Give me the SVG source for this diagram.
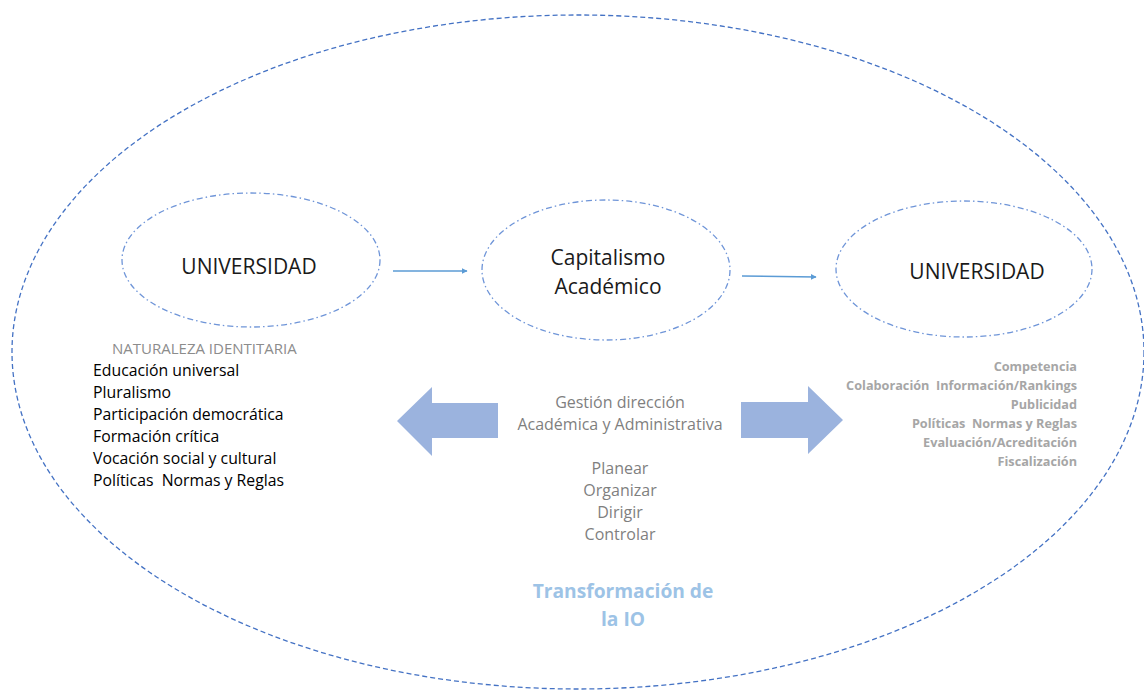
<svg xmlns="http://www.w3.org/2000/svg" width="1144" height="690" viewBox="0 0 1144 690">
<defs>
<style>
.outer{fill:none;stroke:#4472c4;stroke-width:1.3;stroke-dasharray:5 3}
.node{fill:none;stroke:#6f95d8;stroke-width:1.3;stroke-dasharray:6 3 1.5 3}
.title{font-family:"Open Sans","Liberation Sans",Arial,sans-serif;font-size:21px;fill:#1a1a1a;text-anchor:middle}
.mid{font-family:"Open Sans","Liberation Sans",Arial,sans-serif;font-size:16px;fill:#7f7f7f;text-anchor:middle}
.list{font-family:"Open Sans","Liberation Sans",Arial,sans-serif;font-size:15.8px;fill:#000}
.head{font-family:"Open Sans","Liberation Sans",Arial,sans-serif;font-size:15px;fill:#8c8c8c}
.rlist{font-family:"Open Sans","Liberation Sans",Arial,sans-serif;font-size:12.7px;font-weight:bold;fill:#a6a6a6;text-anchor:end}
.trans{font-family:"Open Sans","Liberation Sans",Arial,sans-serif;font-size:19.2px;font-weight:bold;fill:#9dc3e6;text-anchor:middle}
.conn{stroke:#5b9bd5;stroke-width:1.6;fill:none}
.block{fill:#9bb3de}
</style>
<marker id="ah" viewBox="0 0 10 10" refX="9" refY="5" markerWidth="6" markerHeight="6" orient="auto" markerUnits="userSpaceOnUse">
<path d="M0,0 L10,5 L0,10 z" fill="#5b9bd5"/>
</marker>
</defs>
<rect width="1144" height="690" fill="#fff"/>
<g id="outer-ellipse">
<ellipse class="outer" cx="578" cy="352" rx="566" ry="337"/>
<text class="trans" x="623" y="598">Transformación de</text>
<text class="trans" x="623" y="626">la IO</text>
</g>
<g id="node-universidad-1">
<ellipse class="node" cx="251" cy="260" rx="129" ry="67"/>
<text class="title" x="249" y="274">UNIVERSIDAD</text>
</g>
<g id="node-capitalismo">
<ellipse class="node" cx="606" cy="270" rx="124" ry="70"/>
<text class="title" x="608" y="265">Capitalismo</text>
<text class="title" x="608" y="294">Académico</text>
</g>
<g id="node-universidad-2">
<ellipse class="node" cx="964" cy="269" rx="128" ry="68"/>
<text class="title" x="977" y="279">UNIVERSIDAD</text>
</g>
<g id="connectors">
<line class="conn" x1="393" y1="271" x2="467" y2="271" marker-end="url(#ah)"/>
<line class="conn" x1="742" y1="276" x2="816" y2="277" marker-end="url(#ah)"/>
<polygon class="block" points="397,421 432,387 432,403 498,403 498,438 432,438 432,456"/>
<polygon class="block" points="843,420 808,386 808,402 741,402 741,438 808,438 808,454"/>
</g>
<g id="left-list">
<text class="head" x="112" y="354">NATURALEZA IDENTITARIA</text>
<text class="list" x="93" y="376">Educación universal</text>
<text class="list" x="93" y="398">Pluralismo</text>
<text class="list" x="93" y="420">Participación democrática</text>
<text class="list" x="93" y="442">Formación crítica</text>
<text class="list" x="93" y="464">Vocación social y cultural</text>
<text class="list" x="93" y="486" xml:space="preserve">Políticas  Normas y Reglas</text>
</g>
<g id="middle-text">
<text class="mid" x="620" y="408">Gestión dirección</text>
<text class="mid" x="620" y="430">Académica y Administrativa</text>
<text class="mid" x="620" y="474">Planear</text>
<text class="mid" x="620" y="496">Organizar</text>
<text class="mid" x="620" y="518">Dirigir</text>
<text class="mid" x="620" y="540">Controlar</text>
</g>
<g id="right-list">
<text class="rlist" x="1077" y="371" xml:space="preserve">Competencia</text>
<text class="rlist" x="1077" y="390" xml:space="preserve">Colaboración  Información/Rankings</text>
<text class="rlist" x="1077" y="409" xml:space="preserve">Publicidad</text>
<text class="rlist" x="1077" y="428" xml:space="preserve">Políticas  Normas y Reglas</text>
<text class="rlist" x="1077" y="447" xml:space="preserve">Evaluación/Acreditación</text>
<text class="rlist" x="1077" y="466" xml:space="preserve">Fiscalización</text>
</g>
</svg>
